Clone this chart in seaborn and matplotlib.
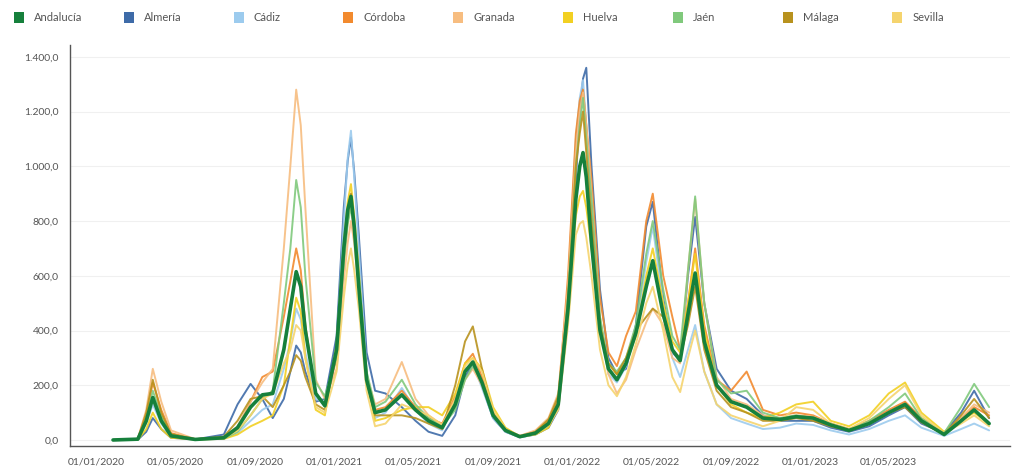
import pandas as pd
import matplotlib.pyplot as plt
import matplotlib.dates as mdates
from matplotlib.patches import Rectangle
from matplotlib.ticker import FuncFormatter, MultipleLocator
import seaborn as sns

# --- Data: 14-day incidence per 100k
dates = [
    "2020-01-27", "2020-03-05", "2020-03-18", "2020-03-28", "2020-04-10", "2020-04-25",
    "2020-06-01", "2020-07-15", "2020-08-05", "2020-08-25", "2020-09-12", "2020-09-28",
    "2020-10-15", "2020-10-25", "2020-11-03", "2020-11-10", "2020-11-17", "2020-12-03",
    "2020-12-17", "2021-01-04",
    "2021-01-15", "2021-01-21", "2021-01-26", "2021-01-31", "2021-02-07", "2021-02-19",
    "2021-03-04", "2021-03-20",
    "2021-04-14", "2021-05-05", "2021-05-25", "2021-06-15", "2021-07-05", "2021-07-20",
    "2021-08-01", "2021-08-15", "2021-09-01", "2021-09-20", "2021-10-12", "2021-11-05",
    "2021-11-25", "2021-12-10", "2021-12-25", "2022-01-06", "2022-01-12", "2022-01-17",
    "2022-01-22", "2022-01-30", "2022-02-12", "2022-02-25", "2022-03-10", "2022-03-24",
    "2022-04-08", "2022-04-24",
    "2022-05-04", "2022-05-20", "2022-06-03", "2022-06-15", "2022-06-27", "2022-07-08",
    "2022-07-22", "2022-08-10", "2022-09-01", "2022-09-25", "2022-10-20", "2022-11-15",
    "2022-12-10", "2023-01-05", "2023-02-01", "2023-03-01", "2023-04-01", "2023-05-01",
    "2023-05-26", "2023-06-20", "2023-07-25", "2023-08-20", "2023-09-09", "2023-10-02",
]

andalucia = [0, 3, 70, 155, 70, 15,
             2, 8, 45, 120, 165, 170,
             330, 480, 615, 560, 400, 170, 125, 330,
             700, 840, 890, 780, 560, 220, 100, 110,
             165, 110, 70, 45, 130, 250, 285, 210, 90, 35, 12, 25,
             60, 130, 480, 880, 1000, 1050, 960, 720, 400, 260, 220, 280, 390, 560,
             655, 460, 330, 290, 460, 610, 360, 200, 140, 120, 80, 75,
             85, 80, 55, 35, 60, 100, 130, 70, 20, 70, 110, 60]
almeria = [0, 1, 30, 80, 40, 8,
           2, 20, 130, 205, 150, 80,
           150, 250, 345, 320, 250, 140, 150, 380,
           850, 1020, 1105, 980, 750, 320, 180, 170,
           120, 70, 30, 15, 90, 230, 280, 200, 80, 30, 10, 20,
           45, 110, 450, 950, 1200, 1320, 1360, 1000, 550, 300, 240, 260, 420, 780,
           870, 520, 320, 290, 600, 815, 500, 260, 180, 150, 90, 70,
           70, 70, 45, 30, 50, 90, 120, 60, 25, 100, 180, 80]
cadiz = [0, 2, 60, 130, 60, 12,
         2, 5, 25, 70, 110, 130,
         260, 360, 480, 440, 320, 150, 140, 330,
         800, 1030, 1130, 960, 700, 250, 80, 100,
         190, 110, 60, 35, 140, 260, 280, 190, 80, 30, 10, 20,
         50, 120, 560, 1100, 1250, 1315, 1150, 850, 420, 240, 210, 270, 400, 650,
         780, 500, 300, 230, 330, 420, 250, 130, 80, 60, 40, 45,
         60, 55, 35, 20, 40, 70, 90, 45, 15, 40, 60, 35]
cordoba = [0, 3, 90, 210, 110, 25,
           3, 6, 40, 140, 230, 250,
           450, 580, 700, 620, 420, 170, 130, 300,
           650, 800, 860, 760, 580, 230, 110, 120,
           180, 120, 80, 60, 160, 280, 315, 230, 100, 40, 15, 30,
           70, 150, 600, 1120, 1240, 1280, 1150, 950, 520, 320, 270, 380, 470, 800,
           900, 600, 450, 330, 500, 700, 420, 220, 180, 250, 110, 90,
           100, 90, 60, 40, 70, 110, 140, 80, 25, 80, 120, 90]
granada = [0, 4, 110, 260, 140, 35,
           3, 8, 50, 140, 210, 260,
           700, 1000, 1280, 1150, 850, 220, 150, 260,
           580, 720, 800, 720, 550, 240, 130, 150,
           285, 150, 90, 55, 120, 220, 260, 200, 90, 35, 15, 35,
           80, 170, 560, 1050, 1200, 1270, 1150, 900, 450, 240, 170, 220, 330, 430,
           480, 420, 300, 280, 620, 880, 500, 230, 150, 130, 90, 80,
           90, 85, 60, 40, 60, 100, 130, 70, 25, 80, 130, 100]
huelva = [0, 1, 40, 100, 40, 8,
          2, 4, 20, 50, 70, 90,
          200, 370, 520, 470, 300, 110, 90, 350,
          720, 870, 935, 820, 620, 230, 70, 80,
          110, 120, 120, 90, 170, 280, 300, 260, 120, 45, 12, 20,
          45, 120, 500, 820, 890, 910, 850, 700, 420, 280, 240, 280, 380, 600,
          700, 500, 360, 320, 500, 680, 400, 200, 130, 100, 80, 100,
          130, 140, 70, 50, 90, 170, 210, 100, 30, 70, 100, 60]
jaen = [0, 3, 80, 180, 90, 20,
        2, 5, 30, 90, 150, 180,
        500, 700, 950, 850, 600, 210, 160, 300,
        650, 790, 850, 770, 600, 250, 120, 140,
        220, 130, 80, 50, 110, 220, 270, 210, 90, 35, 12, 25,
        60, 130, 520, 1000, 1150, 1250, 1100, 880, 450, 280, 250, 300, 420, 680,
        800, 550, 380, 330, 620, 890, 500, 220, 170, 180, 100, 80,
        90, 80, 60, 35, 70, 120, 170, 80, 25, 120, 205, 120]
malaga = [0, 4, 100, 220, 100, 22,
          3, 12, 70, 150, 160, 120,
          200, 250, 310, 290, 230, 130, 110, 320,
          700, 840, 900, 770, 560, 210, 90, 90,
          90, 80, 60, 40, 200, 360, 415, 260, 100, 35, 12, 30,
          75, 160, 500, 1000, 1120, 1200, 1050, 800, 420, 280, 240, 300, 400, 450,
          480, 450, 330, 300, 420, 560, 330, 180, 120, 100, 70, 70,
          80, 70, 50, 35, 60, 100, 120, 65, 20, 90, 150, 80]
sevilla = [0, 3, 70, 150, 70, 15,
           2, 6, 35, 90, 150, 170,
           280, 330, 420, 400, 300, 120, 100, 250,
           520, 640, 700, 620, 480, 180, 50, 60,
           130, 110, 90, 55, 150, 270, 300, 250, 110, 40, 12, 22,
           55, 110, 420, 750, 790, 800, 740, 600, 330, 200, 160, 230, 350, 500,
           560, 400, 230, 175, 300, 400, 250, 130, 90, 70, 50, 70,
           120, 110, 60, 40, 80, 150, 200, 90, 25, 60, 90, 50]

names = ["Andalucía", "Almería", "Cádiz", "Córdoba", "Granada",
         "Huelva", "Jaén", "Málaga", "Sevilla"]
series = [andalucia, almeria, cadiz, cordoba, granada,
          huelva, jaen, malaga, sevilla]
colors = ["#16803c", "#3e6ba8", "#9ccbee", "#f28a2e", "#f7bd80",
          "#f2d022", "#80c97c", "#b8921e", "#f5d46e"]

df = pd.DataFrame({"fecha": pd.to_datetime(dates)})
for n, s in zip(names, series):
    df[n] = s
long = df.melt(id_vars="fecha", var_name="provincia", value_name="ia")

sns.set_style("white")
plt.rcParams["font.family"] = ["Lato", "DejaVu Sans"]

fig = plt.figure(figsize=(10.24, 4.75), dpi=100)
ax = fig.add_axes([70 / 1024, 29 / 475, 940 / 1024, 401.5 / 475])

# provinces first, Andalucía on top
for n, c in list(zip(names, colors))[1:] + [(names[0], colors[0])]:
    sub = long[long["provincia"] == n]
    lw = 2.6 if n == "Andalucía" else 1.4
    sns.lineplot(data=sub, x="fecha", y="ia", color=c, linewidth=lw,
                 alpha=1.0 if n == "Andalucía" else 0.9, ax=ax, legend=False)

ax.set_xlim(pd.Timestamp("2019-11-22"), pd.Timestamp("2023-11-03"))
ax.set_ylim(-22, 1445)
ax.set_xlabel("")
ax.set_ylabel("")

ax.yaxis.set_major_locator(MultipleLocator(200))
ax.yaxis.set_major_formatter(FuncFormatter(
    lambda v, p: f"{v:,.1f}".replace(",", "X").replace(".", ",").replace("X", ".")))
ax.grid(axis="y", color="#f0f0f0", linewidth=0.8)

ax.xaxis.set_major_locator(mdates.MonthLocator(bymonth=[1, 3, 5, 7, 9, 11]))
last_label = pd.Timestamp("2023-06-01")
ax.xaxis.set_major_formatter(FuncFormatter(
    lambda v, p: mdates.num2date(v).strftime("%d/%m/%Y")
    if mdates.num2date(v).month in (1, 5, 9)
    and mdates.num2date(v).replace(tzinfo=None) < last_label else ""))

for side in ["top", "right"]:
    ax.spines[side].set_visible(False)
for side in ["left", "bottom"]:
    ax.spines[side].set_color("#555555")
    ax.spines[side].set_linewidth(1.0)
ax.tick_params(axis="x", direction="out", length=4, width=0.8, color="#555555",
               labelsize=7.5, labelcolor="#555555", pad=4)
ax.tick_params(axis="y", length=0, labelsize=7.5, labelcolor="#555555", pad=8)

# --- Legend row across the top
for i, (n, c) in enumerate(zip(names, colors)):
    x0 = 14 + i * 109.8
    fig.add_artist(Rectangle((x0 / 1024, (475 - 23) / 475), 10 / 1024, 11 / 475,
                             transform=fig.transFigure, color=c, lw=0))
    fig.text((x0 + 20) / 1024, (475 - 17.5) / 475, n, fontsize=8,
             color="#555555", va="center", ha="left")

fig.savefig("out.png", dpi=100)
plt.close(fig)
print("[ok] Wrote out.png")
